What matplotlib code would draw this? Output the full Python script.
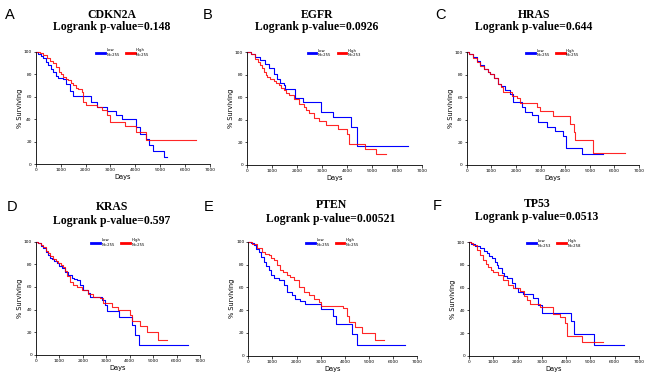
import matplotlib
matplotlib.use("Agg")
import matplotlib.pyplot as plt
from matplotlib.lines import Line2D

# ---------------- data ----------------
genes = ["CDKN2A", "EGFR", "HRAS", "KRAS", "PTEN", "TP53"]
pvalues = ["0.148", "0.0926", "0.644", "0.597", "0.00521", "0.0513"]
panel_letters = ["A", "B", "C", "D", "E", "F"]
low_n = ["255", "255", "255", "255", "255", "253"]
high_n = ["255", "253", "255", "255", "255", "258"]
x_ticks = [0, 1000, 2000, 3000, 4000, 5000, 6000, 7000]
y_ticks = [0, 20, 40, 60, 80, 100]

cdkn2a_low_days = [0, 100, 200, 300, 400, 500, 600, 700, 800, 900, 1100, 1200, 1380, 1510, 2220, 2450, 2880, 3230, 3450, 4030, 4190, 4430, 4560, 4730, 5150, 5260]
cdkn2a_low_surv = [100, 98, 96, 94, 91, 88, 85, 82, 78, 77, 75.5, 71, 65, 60.8, 55, 51, 47.5, 43.6, 40, 33, 27, 22, 17, 11.6, 6.5, 6.5]
cdkn2a_high_days = [0, 170, 300, 440, 580, 710, 820, 940, 1030, 1110, 1210, 1310, 1410, 1510, 1610, 1710, 1850, 1910, 2020, 2450, 2650, 2850, 2990, 3590, 4030, 4430, 6430]
cdkn2a_high_surv = [100, 99, 97, 94.7, 92, 89.6, 86, 82, 80, 77.7, 76, 74.8, 72, 70, 68, 66.5, 64, 55.5, 52.5, 51, 48, 43.6, 37.7, 33.8, 28.8, 21, 21]

egfr_low_days = [0, 150, 330, 530, 730, 870, 1070, 1200, 1330, 1470, 1530, 1900, 2240, 2950, 3450, 4170, 4410, 6420]
egfr_low_surv = [100, 98, 95.6, 92.6, 89.7, 86, 80.8, 76.4, 72.9, 70.5, 67.5, 59.6, 55.8, 47, 42.5, 33.6, 17, 17]
egfr_high_days = [0, 150, 333, 450, 530, 600, 670, 740, 800, 900, 1070, 1170, 1270, 1370, 1470, 1570, 1670, 1870, 2070, 2270, 2370, 2470, 2670, 2870, 3170, 3640, 4000, 4060, 4700, 5170, 5540]
egfr_high_surv = [100, 98, 94, 91, 88.5, 86, 82.6, 80, 78, 76, 74.3, 72.5, 70.8, 68, 66, 63.5, 61.6, 58.7, 54.3, 51.3, 49, 46, 42, 38.5, 35, 32, 27, 18.3, 14, 9.4, 9.4]

hras_low_days = [0, 100, 250, 400, 540, 700, 850, 950, 1100, 1290, 1400, 1560, 1760, 1890, 2230, 2370, 2640, 2910, 3250, 3590, 3920, 4030, 4670, 5550]
hras_low_surv = [100, 98, 95.5, 92, 88.5, 85, 82, 80.5, 77, 72, 70, 66, 63, 55.8, 51.3, 47, 44, 38, 33.6, 29.8, 25.7, 15, 10, 10]
hras_high_days = [0, 100, 250, 400, 540, 700, 850, 950, 1100, 1290, 1400, 1490, 1830, 2030, 2160, 2840, 2980, 3520, 4190, 4360, 4420, 5140, 6430]
hras_high_surv = [100, 98, 95, 91, 88, 85, 82, 80.8, 77, 72, 69, 65, 61, 59.6, 55.2, 51, 48, 43.4, 36, 29, 21.8, 10.6, 10.6]

kras_low_days = [0, 100, 200, 313, 420, 526, 600, 670, 780, 880, 1000, 1100, 1240, 1380, 1520, 1620, 1740, 1880, 2020, 2230, 2290, 2800, 2940, 3020, 3530, 4080, 4220, 4400, 6480]
kras_low_surv = [100, 98.5, 96.5, 94, 91, 88, 86, 85, 83, 80.8, 78.5, 76.4, 73.5, 70.5, 68, 67, 66, 61.6, 57, 55, 51, 48.4, 44, 38.6, 33.6, 26, 17, 8.8, 8.8]
kras_high_days = [0, 100, 200, 313, 420, 526, 600, 740, 850, 950, 1060, 1170, 1240, 1320, 1450, 1590, 1740, 1950, 2230, 2450, 2730, 2870, 3230, 3510, 4010, 4080, 4440, 4720, 5220, 5580]
kras_high_surv = [100, 99, 97, 95, 92, 89.7, 87.5, 85, 83, 80.8, 79, 77.3, 74, 70, 64.6, 61.6, 60, 57, 54, 51.3, 50, 45.4, 42.5, 39.5, 35, 30, 25.7, 20.5, 13.3, 13.3]

pten_low_days = [0, 120, 220, 320, 430, 530, 635, 740, 840, 950, 1050, 1260, 1460, 1600, 1810, 1930, 2140, 2350, 3010, 3520, 3620, 4280, 4490, 6490]
pten_low_surv = [100, 99, 97, 94, 91, 87, 82.5, 79, 75, 71, 68.4, 66, 62, 56, 53, 50, 48, 45, 41, 35, 28, 19, 9.4, 9.4]
pten_high_days = [0, 150, 360, 570, 700, 840, 950, 1050, 1190, 1330, 1450, 1600, 1740, 1880, 2090, 2290, 2500, 2710, 2910, 3000, 3940, 4080, 4190, 4430, 4710, 5250, 5600]
pten_high_surv = [100, 97.7, 94.7, 91, 89.5, 88, 86, 84, 79.5, 75, 73, 70.8, 69, 66.4, 60.5, 56, 53, 49.7, 47, 44, 42, 35, 30, 25.5, 19.6, 13.5, 13.5]

tp53_low_days = [0, 100, 250, 450, 600, 730, 830, 930, 1070, 1150, 1210, 1340, 1450, 1550, 1760, 1890, 2030, 2240, 2650, 2850, 2990, 4200, 4320, 5140, 6390]
tp53_low_surv = [100, 98.5, 97, 94.7, 92.5, 90.3, 88, 85.9, 83, 80, 77, 72.6, 70, 68.2, 63.8, 59.4, 56.5, 54, 51, 44.7, 38, 31, 19, 9.7, 9.7]
tp53_high_days = [0, 100, 180, 320, 450, 590, 700, 800, 900, 1000, 1210, 1410, 1620, 1820, 2100, 2250, 2370, 2510, 2920, 3470, 3750, 3950, 4050, 4660, 5530]
tp53_high_surv = [100, 99, 97.6, 93, 88.8, 84.4, 81, 78.5, 76, 74, 71, 66.8, 62.4, 59.4, 57, 53, 49, 46, 43, 37, 34.4, 28.5, 17.6, 12, 12]

low_curves = [(cdkn2a_low_days, cdkn2a_low_surv), (egfr_low_days, egfr_low_surv),
              (hras_low_days, hras_low_surv), (kras_low_days, kras_low_surv),
              (pten_low_days, pten_low_surv), (tp53_low_days, tp53_low_surv)]
high_curves = [(cdkn2a_high_days, cdkn2a_high_surv), (egfr_high_days, egfr_high_surv),
               (hras_high_days, hras_high_surv), (kras_high_days, kras_high_surv),
               (pten_high_days, pten_high_surv), (tp53_high_days, tp53_high_surv)]

# ---------------- layout ----------------
W, H = 650, 379
fig = plt.figure(figsize=(6.5, 3.79), dpi=100)

# axes boxes in pixels: left, right, top(y=100), bottom(y=0)
boxes = [(35.7, 210, 51.7, 164), (247, 422, 52, 165), (466.7, 639, 52, 165),
         (36, 200, 241.7, 354.7), (248.3, 417.3, 241.7, 355.7), (469, 639, 242.3, 355.7)]
title_pos = [(112, 15, 27), (317, 15, 27), (534, 15, 27),
             (112, 207, 221), (331, 205, 219), (537, 204, 217)]
letter_pos = [(10, 15), (208, 15), (441, 15), (12, 207), (209, 207), (437, 206)]

BLUE = "#0000ff"
RED = "#ff0000"

for i in range(6):
    l, r, t, b = boxes[i]
    ax = fig.add_axes([l / W, 1 - b / H, (r - l) / W, (b - t) / H])
    lt, ls = low_curves[i]
    ht, hs = high_curves[i]
    ax.step(lt, ls, where="post", color=BLUE, lw=0.8, clip_on=False)
    ax.step(ht, hs, where="post", color=RED, lw=0.8, clip_on=False, alpha=0.85)
    ax.set_xlim(0, 7000)
    ax.set_ylim(0, 100)
    ax.set_xticks(x_ticks)
    ax.set_yticks(y_ticks)
    ax.set_xticklabels([str(v) for v in x_ticks])
    ax.set_yticklabels([str(v) for v in y_ticks])
    for s in ["top", "right"]:
        ax.spines[s].set_visible(False)
    for s in ["left", "bottom"]:
        ax.spines[s].set_linewidth(0.6)
    ax.tick_params(labelsize=3.2, length=1.8, width=0.5, pad=1)
    ax.set_xlabel("Days", fontsize=4.8, labelpad=1.5)
    ax.set_ylabel("% Surviving", fontsize=4.8, labelpad=0.5)
    handles = [Line2D([], [], color=BLUE, lw=2),
               Line2D([], [], color=RED, lw=2)]
    ax.legend(handles, ["Low\nN=" + low_n[i], "High\nN=" + high_n[i]],
              loc="upper center", bbox_to_anchor=(0.5, 1.06), ncol=2,
              fontsize=2.8, frameon=False, handlelength=2.2,
              handletextpad=0.4, columnspacing=1.6)

    cx, y1, y2 = title_pos[i]
    fig.text(cx / W, 1 - y1 / H, genes[i], ha="center", va="center",
             fontsize=8.5, fontweight="bold", family="Liberation Serif")
    fig.text(cx / W, 1 - y2 / H, "Logrank p-value=" + pvalues[i], ha="center",
             va="center", fontsize=8.5, fontweight="bold", family="Liberation Serif")
    lx, ly = letter_pos[i]
    fig.text(lx / W, 1 - ly / H, panel_letters[i], ha="center", va="center",
             fontsize=10.5, family="Liberation Sans")

fig.savefig("out.png", dpi=100)
